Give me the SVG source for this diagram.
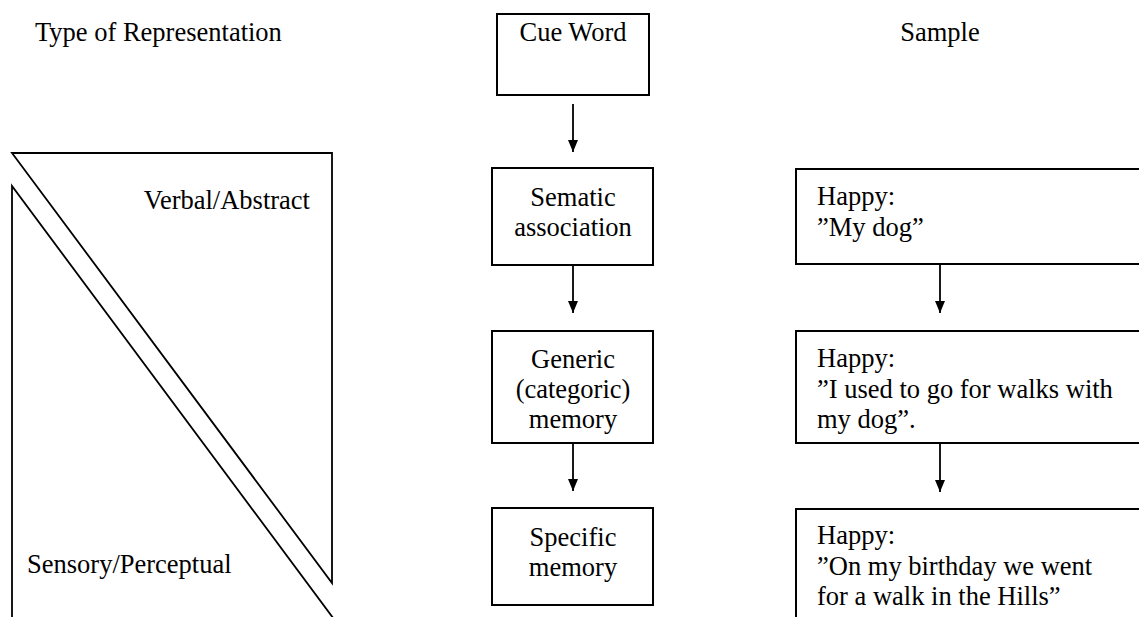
<svg xmlns="http://www.w3.org/2000/svg" width="1139" height="617" viewBox="0 0 1139 617">
<style>
text{font-family:"Liberation Serif","Times New Roman",serif;font-size:26.5px;fill:#000}
.c{text-anchor:middle}
.box{fill:#fff;stroke:#000;stroke-width:2}
.ln{fill:none;stroke:#000;stroke-width:1.8}
.ar{fill:none;stroke:#000;stroke-width:1.8}
</style>
<defs>
<marker id="ah" viewBox="0 0 12 10" refX="12" refY="5" markerWidth="12" markerHeight="10" markerUnits="userSpaceOnUse" orient="auto">
<path d="M0,0 L12,5 L0,10 Z" fill="#000"/>
</marker>
</defs>
<rect width="1139" height="617" fill="#fff"/>

<g id="headers">
<text x="35" y="41">Type of Representation</text>
<text x="940" y="41" class="c">Sample</text>
</g>

<g id="representation">
<path class="ln" d="M12,153 L332,153 L332,583 Z"/>
<path class="ln" d="M12,640 L12,186 L345,634"/>
<text x="310" y="209" text-anchor="end">Verbal/Abstract</text>
<text x="27" y="573">Sensory/Perceptual</text>
</g>

<g id="cue-word">
<rect class="box" x="497" y="14" width="152" height="81"/>
<text x="573" y="41" class="c">Cue Word</text>
</g>

<g id="semantic">
<rect class="box" x="492" y="168" width="161" height="97"/>
<text x="573" y="206" class="c">Sematic</text>
<text x="573" y="236" class="c">association</text>
</g>

<g id="generic">
<rect class="box" x="492" y="331" width="161" height="112"/>
<text x="573" y="368" class="c">Generic</text>
<text x="573" y="398" class="c">(categoric)</text>
<text x="573" y="428" class="c">memory</text>
</g>

<g id="specific">
<rect class="box" x="492" y="508" width="161" height="97"/>
<text x="573" y="546" class="c">Specific</text>
<text x="573" y="576" class="c">memory</text>
</g>

<g id="sample1">
<rect class="box" x="796" y="169" width="360" height="95"/>
<text x="817" y="205">Happy:</text>
<text x="817" y="236">”My dog”</text>
</g>

<g id="sample2">
<rect class="box" x="796" y="331" width="360" height="112"/>
<text x="817" y="367">Happy:</text>
<text x="817" y="398">”I used to go for walks with</text>
<text x="817" y="428">my dog”.</text>
</g>

<g id="sample3">
<rect class="box" x="796" y="509" width="360" height="130"/>
<text x="817" y="544">Happy:</text>
<text x="817" y="575">”On my birthday we went</text>
<text x="817" y="605">for a walk in the Hills”</text>
</g>

<g id="connectors">
<line class="ar" x1="573" y1="104" x2="573" y2="152" marker-end="url(#ah)"/>
<line class="ar" x1="573" y1="265" x2="573" y2="313" marker-end="url(#ah)"/>
<line class="ar" x1="573" y1="443" x2="573" y2="491" marker-end="url(#ah)"/>
<line class="ar" x1="940" y1="264" x2="940" y2="313" marker-end="url(#ah)"/>
<line class="ar" x1="940" y1="443" x2="940" y2="492" marker-end="url(#ah)"/>
</g>
</svg>
